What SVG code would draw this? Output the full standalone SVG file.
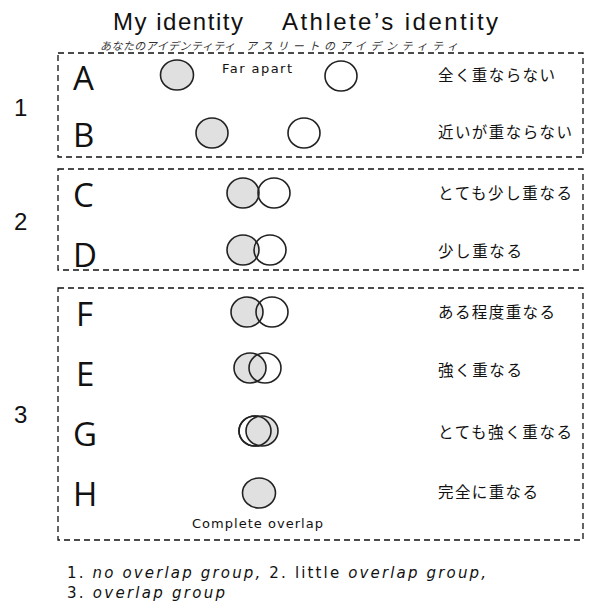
<svg xmlns="http://www.w3.org/2000/svg" width="596" height="603" viewBox="0 0 596 603">
<style>
.box{fill:none;stroke:#111;stroke-width:1.3;stroke-dasharray:6,4}
.g{fill:#e0e0e0;stroke:#222;stroke-width:1.6}
.w{fill:none;stroke:#222;stroke-width:1.6}
.title{font-family:"Liberation Sans","DejaVu Sans",sans-serif;font-size:24px;fill:#111}
.num{font-family:"Liberation Sans","DejaVu Sans",sans-serif;font-size:24px;fill:#111}
.let{font-family:"Open Sans","Liberation Sans",sans-serif;font-size:33px;fill:#111}
.jp{font-family:"Noto Sans CJK JP",sans-serif;font-size:15.5px;fill:#111}
.sub{font-family:"Noto Sans CJK JP",sans-serif;font-size:11px;fill:#333;font-style:italic}
.sm{font-family:"DejaVu Sans","Liberation Sans",sans-serif;font-size:13px;fill:#111}
.ft{font-family:"DejaVu Sans","Liberation Sans",sans-serif;font-size:15px;fill:#111}
.it{font-style:italic}
</style>
<rect width="596" height="603" fill="#fff"/>
<g id="titles">
<text class="title" x="113" y="30" textLength="130">My identity</text>
<text class="title" x="282" y="30" textLength="216">Athlete’s identity</text>
<text class="sub" x="100" y="50" textLength="135">あなたのアイデンティティ</text>
<text class="sub" x="246" y="50" textLength="212">アスリートのアイデンティティ</text>
</g>
<g id="groups">
<rect class="box" x="58" y="53" width="525" height="104"/>
<rect class="box" x="58" y="169" width="525" height="101"/>
<rect class="box" x="58" y="288" width="525" height="252"/>
<text class="num" x="14" y="116">1</text>
<text class="num" x="14" y="230">2</text>
<text class="num" x="14" y="423">3</text>
</g>
<g id="rowA">
<text class="let" x="73" y="90">A</text>
<ellipse class="g" cx="177" cy="75" rx="16.5" ry="15"/>
<ellipse class="w" cx="341" cy="76" rx="16" ry="15"/>
<text class="sm" x="222" y="73" textLength="70">Far apart</text>
<text class="jp" x="438" y="81" textLength="117">全く重ならない</text>
</g>
<g id="rowB">
<text class="let" x="73" y="147">B</text>
<ellipse class="g" cx="212" cy="133" rx="16" ry="15"/>
<ellipse class="w" cx="304" cy="133" rx="16" ry="15"/>
<text class="jp" x="438" y="138" textLength="134">近いが重ならない</text>
</g>
<g id="rowC">
<text class="let" x="73" y="207">C</text>
<ellipse class="g" cx="243" cy="193" rx="16" ry="15"/>
<ellipse class="w" cx="274" cy="193" rx="16" ry="15"/>
<text class="jp" x="438" y="199" textLength="134">とても少し重なる</text>
</g>
<g id="rowD">
<text class="let" x="73" y="267">D</text>
<ellipse class="g" cx="243" cy="250" rx="16" ry="15"/>
<ellipse class="w" cx="270" cy="250" rx="16" ry="15"/>
<text class="jp" x="438" y="257" textLength="84">少し重なる</text>
</g>
<g id="rowF">
<text class="let" x="76" y="326">F</text>
<ellipse class="g" cx="247" cy="312" rx="16" ry="15"/>
<ellipse class="w" cx="272" cy="312" rx="16" ry="15"/>
<text class="jp" x="438" y="318" textLength="117">ある程度重なる</text>
</g>
<g id="rowE">
<text class="let" x="76" y="386">E</text>
<ellipse class="g" cx="250" cy="368" rx="16" ry="15"/>
<ellipse class="w" cx="265" cy="368" rx="16" ry="15"/>
<text class="jp" x="438" y="376" textLength="84">強く重なる</text>
</g>
<g id="rowG">
<text class="let" x="73" y="446">G</text>
<ellipse class="w" cx="255" cy="431" rx="16" ry="15"/>
<ellipse class="g" cx="262" cy="431" rx="16" ry="15"/>
<ellipse class="w" cx="255" cy="431" rx="16" ry="15"/>
<text class="jp" x="438" y="438" textLength="134">とても強く重なる</text>
</g>
<g id="rowH">
<text class="let" x="73" y="506">H</text>
<ellipse class="g" cx="259" cy="493" rx="16.5" ry="15"/>
<text class="sm" x="192" y="528" textLength="131">Complete overlap</text>
<text class="jp" x="438" y="498" textLength="100">完全に重なる</text>
</g>
<g id="connectors"></g>
<g id="footer">
<text class="ft" x="67" y="578" textLength="419">1. <tspan class="it">no overlap group,</tspan>  2. little <tspan class="it">overlap group,</tspan></text>
<text class="ft" x="67" y="598" textLength="158">3. <tspan class="it">overlap group</tspan></text>
</g>
</svg>
